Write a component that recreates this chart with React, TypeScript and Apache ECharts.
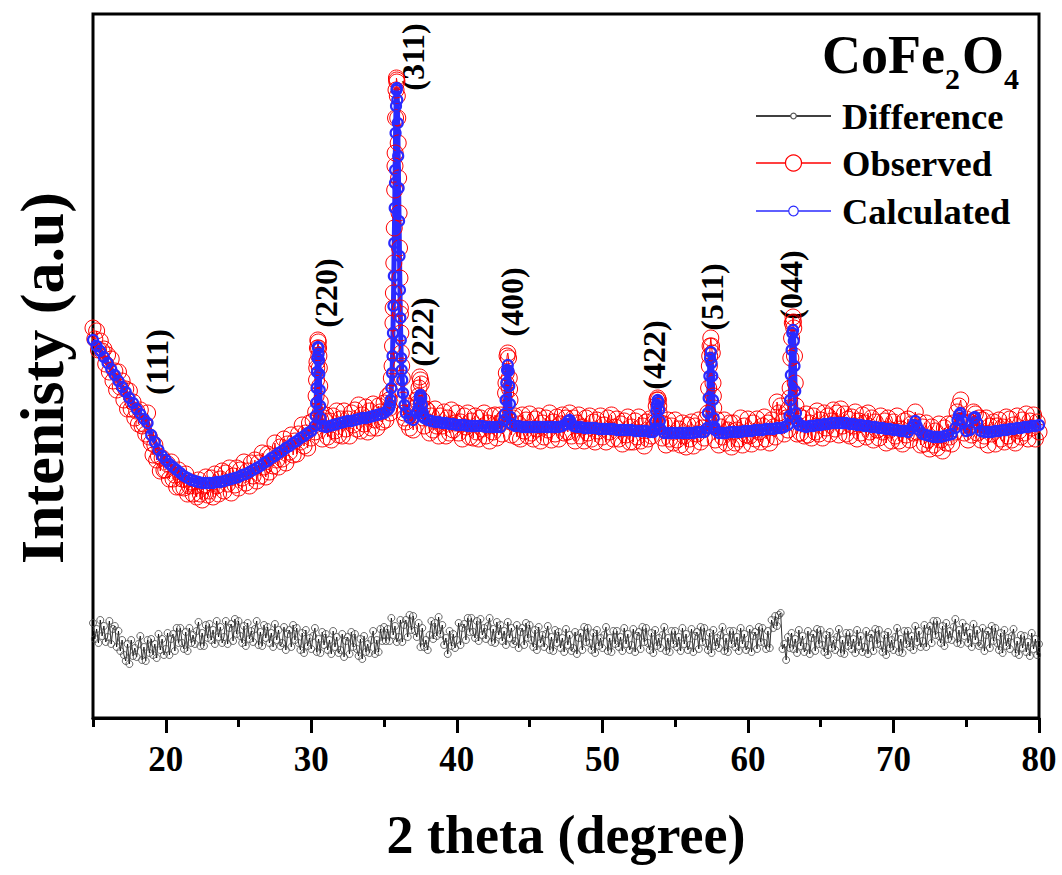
import React, { useEffect, useRef } from "react";
import * as echarts from "echarts";

// Calculated profile: scan grid 15° to 80° in 0.25° steps (261 points)
const CALC_START = 15;
const CALC_STEP = 0.25;
// Observed and difference: scan grid 15° to 80° in 0.125° steps (521 points)
const OBS_START = 15;
const OBS_STEP = 0.125;

const calculatedScan = [
  378, 372, 367, 361,
  355, 349, 343, 337,
  331, 326, 320, 315,
  309, 304, 299, 295,
  283, 276, 268, 262,
  258, 254, 251, 248,
  245, 242, 240, 238,
  237, 236, 235, 235,
  235, 235, 236, 236,
  237, 238, 239, 240,
  241, 243, 244, 246,
  248, 250, 252, 255,
  257, 260, 262, 265,
  267, 270, 272, 275,
  277, 280, 282, 285,
  287, 292, 364, 292,
  291, 292, 293, 294,
  295, 296, 297, 297,
  298, 299, 300, 300,
  301, 302, 303, 304,
  305, 308, 330, 535,
  530, 338, 305, 300,
  298, 305, 323, 300,
  298, 297, 296, 296,
  295, 295, 294, 294,
  293, 293, 293, 292,
  292, 292, 292, 292,
  291, 291, 291, 291,
  291, 298, 353, 294,
  292, 292, 291, 291,
  291, 291, 291, 291,
  291, 291, 291, 291,
  291, 292, 294, 298,
  292, 291, 291, 290,
  290, 290, 290, 289,
  289, 289, 289, 289,
  288, 288, 288, 288,
  288, 287, 287, 287,
  287, 286, 286, 313,
  289, 285, 285, 285,
  285, 285, 285, 285,
  285, 285, 286, 286,
  286, 305, 355, 288,
  285, 285, 285, 286,
  286, 286, 286, 287,
  287, 287, 288, 288,
  288, 289, 289, 289,
  290, 290, 291, 293,
  368, 327, 293, 292,
  291, 292, 292, 293,
  293, 294, 294, 295,
  295, 295, 295, 295,
  294, 294, 293, 293,
  292, 292, 291, 291,
  290, 290, 289, 289,
  288, 288, 287, 287,
  286, 290, 297, 288,
  284, 283, 282, 281,
  281, 281, 282, 283,
  284, 290, 303, 297,
  287, 288, 300, 295,
  287, 286, 286, 286,
  287, 287, 288, 288,
  289, 289, 290, 290,
  291, 291, 292, 292,
  293,
];

const observedScan = [
  390, 379, 387, 368, 377, 367, 369, 354,
  363, 346, 359, 337, 347, 328, 346, 331,
  337, 318, 329, 309, 327, 309, 316, 300,
  307, 294, 308, 292, 294, 284, 305, 281,
  275, 263, 273, 258, 262, 247, 260, 248,
  248, 254, 239, 256, 239, 243, 231, 248,
  231, 239, 230, 244, 224, 232, 236, 224,
  232, 221, 238, 224, 218, 232, 241, 223,
  227, 240, 221, 244, 232, 224, 239, 247,
  227, 245, 234, 250, 225, 242, 233, 250,
  230, 248, 240, 256, 235, 247, 232, 255,
  242, 258, 237, 255, 242, 265, 251, 241,
  264, 246, 262, 252, 275, 258, 251, 271,
  259, 279, 255, 274, 266, 283, 263, 277,
  264, 284, 276, 293, 272, 285, 270, 295,
  280, 297, 286, 350, 370, 306, 279, 300,
  303, 281, 297, 278, 302, 287, 307, 283,
  299, 282, 307, 289, 299, 282, 305, 293,
  308, 289, 313, 287, 303, 294, 311, 286,
  307, 290, 314, 298, 290, 312, 306, 296,
  315, 298, 322, 310, 340, 410, 552, 638,
  540, 404, 340, 305, 296, 312, 290, 306,
  288, 310, 318, 322, 338, 310, 292, 309,
  307, 285, 302, 288, 309, 292, 282, 302,
  292, 306, 282, 300, 285, 308, 288, 295,
  305, 285, 296, 279, 302, 291, 305, 281,
  297, 280, 302, 286, 279, 300, 289, 305,
  282, 295, 277, 302, 286, 303, 280, 294,
  303, 284, 300, 335, 365, 329, 283, 300,
  302, 281, 294, 279, 303, 287, 298, 282,
  304, 285, 279, 299, 289, 302, 277, 295,
  281, 300, 288, 305, 278, 296, 284, 301,
  279, 294, 303, 285, 300, 286, 305, 282,
  300, 277, 295, 303, 282, 291, 277, 300,
  285, 302, 279, 296, 276, 298, 287, 302,
  281, 293, 276, 300, 286, 303, 279, 291,
  299, 279, 294, 274, 297, 283, 301, 276,
  291, 276, 297, 281, 301, 277, 292, 272,
  296, 279, 299, 282, 290, 296, 318, 312,
  295, 280, 294, 273, 298, 279, 292, 275,
  298, 278, 289, 273, 295, 282, 271, 293,
  279, 296, 272, 292, 284, 298, 276, 290,
  280, 299, 305, 362, 372, 322, 278, 298,
  273, 291, 281, 298, 275, 288, 295, 271,
  295, 275, 288, 279, 300, 273, 292, 283,
  299, 282, 274, 295, 279, 299, 286, 276,
  292, 301, 279, 295, 275, 298, 291, 281,
  316, 305, 312, 296, 284, 300, 288, 320,
  380, 396, 335, 284, 302, 285, 300, 282,
  304, 283, 295, 280, 302, 286, 307, 284,
  298, 280, 305, 290, 302, 284, 297, 308,
  289, 305, 283, 309, 292, 304, 284, 299,
  282, 301, 292, 306, 279, 297, 285, 303,
  295, 281, 305, 286, 300, 278, 296, 288,
  280, 302, 286, 297, 275, 300, 288, 277,
  296, 282, 302, 277, 289, 274, 297, 283,
  299, 278, 294, 285, 306, 286, 296, 273,
  291, 274, 295, 278, 269, 291, 273, 287,
  270, 294, 278, 267, 290, 275, 294, 281,
  274, 295, 286, 306, 312, 318, 296, 285,
  299, 278, 296, 283, 306, 304, 285, 300,
  278, 298, 282, 300, 273, 292, 284, 296,
  274, 292, 298, 279, 291, 276, 301, 282,
  299, 278, 293, 275, 302, 287, 281, 298,
  285, 304, 279, 297, 290, 303, 279, 296,
  286,
];

const differenceScan = [
  95, 79, 89, 75, 98, 82, 92, 76,
  81, 97, 74, 89, 92, 71, 87, 67,
  78, 63, 57, 74, 54, 78, 62, 70,
  61, 74, 82, 58, 71, 57, 78, 65,
  79, 63, 74, 60, 84, 68, 79, 63,
  69, 85, 63, 79, 84, 67, 90, 75,
  90, 75, 69, 86, 67, 90, 75, 83,
  74, 87, 96, 72, 85, 72, 93, 80,
  94, 78, 88, 74, 97, 81, 91, 75,
  81, 97, 74, 90, 94, 77, 99, 84,
  97, 82, 75, 92, 72, 95, 79, 87,
  76, 89, 97, 73, 86, 72, 93, 80,
  91, 75, 85, 71, 94, 78, 88, 72,
  75, 91, 68, 84, 88, 71, 93, 78,
  90, 75, 68, 85, 65, 88, 72, 80,
  69, 82, 90, 66, 79, 65, 86, 73,
  84, 68, 78, 64, 87, 71, 81, 65,
  68, 84, 61, 77, 81, 64, 86, 71,
  84, 69, 62, 79, 59, 82, 66, 74,
  65, 78, 87, 64, 78, 66, 89, 77,
  91, 77, 89, 77, 100, 83, 92, 76,
  81, 98, 76, 93, 98, 81, 103, 88,
  102, 87, 81, 95, 71, 90, 71, 78,
  68, 83, 97, 79, 95, 82, 101, 84,
  93, 73, 80, 64, 87, 72, 84, 70,
  78, 95, 73, 90, 94, 78, 100, 86,
  100, 86, 80, 97, 77, 99, 83, 90,
  79, 92, 100, 76, 89, 75, 96, 83,
  93, 77, 87, 73, 96, 80, 90, 74,
  77, 93, 70, 86, 90, 73, 95, 80,
  93, 78, 71, 88, 68, 91, 75, 83,
  71, 84, 92, 68, 81, 67, 88, 75,
  86, 70, 80, 66, 89, 73, 83, 67,
  70, 86, 64, 80, 85, 68, 91, 76,
  90, 75, 68, 85, 65, 88, 72, 80,
  70, 83, 91, 67, 80, 66, 87, 74,
  87, 71, 81, 67, 90, 74, 84, 68,
  73, 89, 66, 82, 86, 69, 91, 76,
  90, 75, 68, 85, 65, 88, 72, 80,
  70, 83, 91, 67, 80, 66, 87, 74,
  87, 71, 81, 67, 90, 74, 84, 68,
  73, 89, 66, 82, 86, 69, 91, 76,
  90, 75, 68, 85, 65, 88, 72, 80,
  70, 83, 91, 67, 80, 66, 87, 74,
  87, 71, 81, 67, 90, 74, 84, 68,
  73, 89, 66, 82, 86, 69, 91, 76,
  90, 75, 69, 87, 70, 98, 90, 102,
  92, 103, 105, 69, 74, 58, 81, 70,
  85, 69, 79, 65, 88, 72, 82, 66,
  71, 87, 64, 80, 84, 67, 89, 74,
  88, 73, 66, 83, 63, 86, 70, 78,
  68, 81, 89, 65, 78, 64, 85, 72,
  85, 69, 79, 65, 88, 72, 82, 66,
  71, 87, 64, 80, 84, 67, 89, 74,
  88, 73, 66, 83, 63, 86, 70, 78,
  68, 81, 90, 66, 79, 65, 87, 74,
  87, 71, 82, 68, 92, 76, 87, 71,
  77, 93, 71, 87, 92, 75, 97, 83,
  97, 82, 75, 92, 72, 95, 79, 87,
  78, 91, 99, 75, 88, 74, 95, 82,
  91, 75, 85, 71, 94, 78, 88, 72,
  74, 90, 67, 83, 87, 70, 92, 77,
  90, 75, 68, 85, 65, 88, 72, 80,
  69, 82, 89, 65, 77, 63, 83, 70,
  82, 66, 76, 62, 85, 69, 79, 63,
  74,
];

// Extra fine-step points across the Bragg peaks
const calculatedPeakTheta = [
  30.3, 30.33, 30.36, 30.39, 30.42, 30.45, 30.48, 30.52, 30.55, 30.58, 30.61, 30.64,
  35.35, 35.4, 35.45, 35.55, 35.58, 35.61, 35.64, 35.67, 35.7, 35.73, 35.76, 35.79,
  35.82, 35.85, 35.88, 35.91, 35.94, 35.97, 36.03, 36.06, 36.09, 36.12, 36.15, 36.18,
  36.21, 36.3, 36.4,
  37.35, 37.4, 37.45, 37.55, 37.6, 37.65, 37.7,
  43.3, 43.35, 43.4, 43.45, 43.55, 43.6, 43.65, 43.7,
  47.65, 47.85,
  53.6, 53.65, 53.7, 53.8, 53.85, 53.9, 53.95,
  57.2, 57.3, 57.35, 57.4, 57.45, 57.55, 57.6, 57.65, 57.7,
  62.85, 62.9, 62.95, 63.05, 63.1, 63.15, 63.2, 63.3, 63.35,
  71.4, 71.6,
  74.4, 74.6, 75.6,
];
const calculatedPeakValue = [
  302, 315, 330, 346, 360, 371, 370, 358, 344, 328, 312, 300,
  310, 313, 318, 345, 362, 385, 412, 442, 475, 510, 548, 585,
  612, 628, 630, 618, 595, 562, 497, 462, 428, 400, 378, 360,
  348, 325, 313,
  309, 315, 321, 320, 313, 306, 302,
  304, 318, 335, 348, 347, 332, 314, 301,
  297, 295,
  289, 297, 307, 318, 316, 308, 297,
  290, 320, 342, 360, 366, 342, 318, 300, 291,
  302, 318, 343, 385, 388, 377, 352, 305, 297,
  293, 292,
  298, 305, 301,
];

const observedPeakTheta = [
  30.3, 30.33, 30.36, 30.39, 30.42, 30.45, 30.48, 30.52, 30.55, 30.58, 30.61, 30.64,
  35.35, 35.4, 35.45, 35.55, 35.58, 35.61, 35.64, 35.67, 35.7, 35.73, 35.76, 35.79,
  35.82, 35.85, 35.88, 35.91, 35.94, 35.97, 36.03, 36.06, 36.09, 36.12, 36.15, 36.18,
  36.21, 36.3, 36.4,
  37.35, 37.4, 37.45, 37.55, 37.6, 37.7,
  43.3, 43.35, 43.4, 43.45, 43.55, 43.6, 43.65, 43.7,
  53.65, 53.7, 53.8, 53.85, 53.9,
  57.3, 57.35, 57.4, 57.45, 57.55, 57.6, 57.65,
  62.85, 62.9, 62.95, 63.05, 63.1, 63.15, 63.2, 63.3,
];
const observedPeakValue = [
  306, 322, 338, 356, 370, 378, 376, 362, 350, 332, 316, 298,
  318, 305, 325, 352, 372, 395, 425, 455, 490, 528, 565, 600,
  628, 640, 636, 622, 600, 575, 505, 470, 440, 410, 385, 365,
  352, 318, 300,
  315, 330, 341, 334, 318, 300,
  300, 325, 345, 362, 360, 340, 318, 296,
  300, 312, 320, 318, 305,
  330, 352, 372, 380, 365, 335, 310,
  310, 330, 360, 395, 401, 390, 362, 312,
];

const xMajorTicks = [20, 30, 40, 50, 60, 70, 80];
const xMinorTicks = [15, 25, 35, 45, 55, 65, 75];

const seriesNames = ["Difference", "Observed", "Calculated"];
const peakLabels = ["(111)", "(220)", "(311)", "(222)", "(400)", "(422)", "(511)", "(044)"];

function buildSeries(start: number, step: number, scan: number[], theta: number[] = [], values: number[] = []) {
  const pts: number[][] = scan.map((v, i) => [+(start + i * step).toFixed(3), v]);
  theta.forEach((t, i) => pts.push([t, values[i]]));
  pts.sort((a, b) => a[0] - b[0]);
  return pts;
}

const SERIF = "'Liberation Serif', 'Times New Roman', serif";

function txt(text: string, x: number, y: number, size: number, extra: any = {}) {
  return {
    type: "text", x, y, rotation: extra.rotation || 0, silent: true,
    style: {
      text, fontFamily: SERIF, fontWeight: "bold", fontSize: size, fill: "#000",
      textAlign: extra.align || "left", textVerticalAlign: "middle",
      lineHeight: extra.lineHeight || size,
    },
  };
}

export default function App() {
  const ref = useRef<HTMLDivElement>(null);
  useEffect(() => {
    if (!ref.current) return;
    const chart = echarts.init(ref.current, undefined, { renderer: "svg" });
    const labelPos = [
      [157, 362], [326, 293], [413, 57], [422, 332], [512, 302], [654, 355], [712, 297], [791, 285],
    ];
    const legendRows = [
      { y: 116, color: "#000000", sym: "#555555", r: 2.8 },
      { y: 163, color: "#ff0000", sym: "#ff0000", r: 8 },
      { y: 211, color: "#2a2aff", sym: "#2a2aff", r: 4.8 },
    ];
    const graphic: any[] = [];
    graphic.push(
      txt("CoFe", 822, 55, 54, { lineHeight: 44 }),
      txt("2", 945, 78, 30, { lineHeight: 20 }),
      txt("O", 962, 55, 54, { lineHeight: 44 }),
      txt("4", 1004, 78, 30, { lineHeight: 20 })
    );
    legendRows.forEach((row, i) => {
      graphic.push(
        { type: "line", silent: true, shape: { x1: 756, y1: row.y, x2: 831, y2: row.y }, style: { stroke: row.color, lineWidth: 1.3 } },
        { type: "circle", silent: true, shape: { cx: 793.5, cy: row.y, r: row.r }, style: { stroke: row.sym, fill: "#ffffff", lineWidth: 1.2 } },
        txt(seriesNames[i], 842, row.y, 36.5, { lineHeight: 30 })
      );
    });
    peakLabels.forEach((t, i) => {
      graphic.push(txt(t, labelPos[i][0], labelPos[i][1], 32, { rotation: Math.PI / 2, align: "center" }));
    });
    graphic.push(
      txt("2 theta (degree)", 566, 835, 54, { align: "center" }),
      txt("Intenisty (a.u)", 42, 378, 62, { rotation: Math.PI / 2, align: "center" })
    );

    chart.setOption({
      animation: false,
      backgroundColor: "#ffffff",
      grid: { left: 93, top: 14, width: 946, height: 704, show: true, borderColor: "#000", borderWidth: 3, backgroundColor: "transparent" },
      xAxis: [
        {
          type: "value", min: 15, max: 80, interval: 5, position: "bottom",
          axisLine: { show: true, lineStyle: { color: "#000", width: 3 } },
          axisTick: { show: true, length: 15, lineStyle: { color: "#000", width: 3 }, customValues: xMajorTicks },
          axisLabel: { show: true, customValues: xMajorTicks, margin: 24, color: "#000", fontFamily: SERIF, fontWeight: "bold", fontSize: 35 },
          splitLine: { show: false },
        },
        {
          type: "value", min: 15, max: 80, interval: 5, position: "bottom",
          axisLine: { show: false },
          axisTick: { show: true, length: 9, lineStyle: { color: "#000", width: 3 }, customValues: xMinorTicks },
          axisLabel: { show: false },
          splitLine: { show: false },
        },
      ],
      yAxis: {
        type: "value", min: 0, max: 704,
        axisLine: { show: false }, axisTick: { show: false }, axisLabel: { show: false }, splitLine: { show: false },
      },
      series: [
        {
          name: seriesNames[0], type: "line", silent: true, data: buildSeries(OBS_START, OBS_STEP, differenceScan),
          symbol: "circle", symbolSize: 7, showSymbol: true, showAllSymbol: true,
          lineStyle: { color: "#000", width: 0.8 },
          itemStyle: { color: "rgba(0,0,0,0)", borderColor: "#444", borderWidth: 0.8 },
        },
        {
          name: seriesNames[1], type: "line", silent: true,
          data: buildSeries(OBS_START, OBS_STEP, observedScan, observedPeakTheta, observedPeakValue),
          symbol: "circle", symbolSize: 16, showSymbol: true, showAllSymbol: true,
          lineStyle: { color: "#ff0000", width: 1 },
          itemStyle: { color: "rgba(0,0,0,0)", borderColor: "#ff0000", borderWidth: 1 },
        },
        {
          name: seriesNames[2], type: "line", silent: true,
          data: buildSeries(CALC_START, CALC_STEP, calculatedScan, calculatedPeakTheta, calculatedPeakValue),
          symbol: "circle", symbolSize: 10, showSymbol: true, showAllSymbol: true,
          lineStyle: { color: "#2a2aff", width: 5 },
          itemStyle: { color: "rgba(0,0,0,0)", borderColor: "#2a2aff", borderWidth: 2.2 },
        },
      ],
      graphic,
    });
    return () => chart.dispose();
  }, []);
  return <div ref={ref} style={{ position: "absolute", left: 0, top: 0, width: 1062, height: 875, background: "#fff" }} />;
}
